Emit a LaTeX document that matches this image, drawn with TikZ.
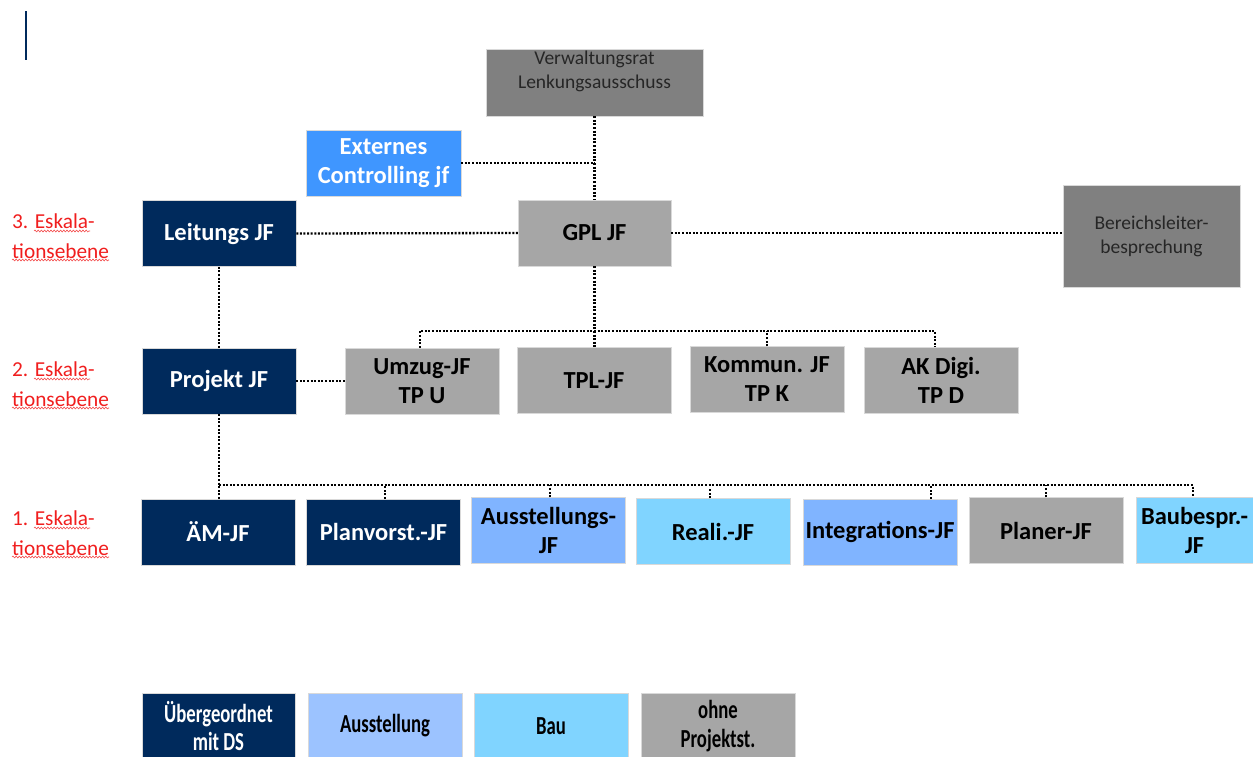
\documentclass[tikz,border=0pt]{standalone}
\usepackage{fontspec}
\setmainfont{Carlito}
\newfontfamily\legendfont[FakeStretch=0.72]{Carlito}
\usetikzlibrary{decorations.pathmorphing}

\definecolor{navy}{HTML}{002A5C}
\definecolor{extblue}{HTML}{3F96FF}
\definecolor{midgray}{HTML}{A6A6A6}
\definecolor{darkgray}{HTML}{808080}
\definecolor{lblue}{HTML}{80B4FF}
\definecolor{legblue}{HTML}{9CC3FF}
\definecolor{cyanl}{HTML}{80D4FF}
\definecolor{esk}{HTML}{F01E1E}

\tikzset{
  box/.style={minimum width=154pt, minimum height=66pt, inner sep=1pt,
    align=center, draw=white!85!black, line width=0.5pt,
    font=\fontsize{24.5}{29}\selectfont\bfseries},
  navybox/.style={box, fill=navy, text=white},
  graybox/.style={box, fill=midgray, text=black},
  bluebox/.style={box, fill=lblue, text=black},
  cyanbox/.style={box, fill=cyanl, text=black},
  thinbox/.style={box, fill=darkgray, text=black!85,
    font=\fontsize{19.5}{24}\selectfont},
  legbox/.style={box, minimum height=66pt,
    font=\legendfont\fontsize{26}{28.5}\selectfont\bfseries},
  link/.style={draw=black, line width=2.3pt, dash pattern=on 2pt off 1.6pt},
  level/.style={anchor=west, inner sep=0, align=left, text=esk,
    font=\fontsize{21.3}{29.5}\selectfont},
  squiggle/.style={draw=esk!80, line width=0.6pt, decorate,
    decoration={snake, amplitude=0.9pt, segment length=3.2pt}}
}

\begin{document}
\begin{tikzpicture}[x=1pt, y=-1pt]
\useasboundingbox (0,0) rectangle (1253,756);

% title bar mark
\draw[navy, line width=2pt] (26,11) -- (26,60);

% top governance
\node[thinbox, minimum width=217pt, minimum height=67pt] (vr) at (594.5,82.5) {};
\node[anchor=north, inner sep=0, align=center, text=black!85,
  font=\fontsize{19.5}{24}\selectfont] (vrtext) at ([yshift=-2pt]vr.north) {Verwaltungsrat\\Lenkungsausschuss};
\node[box, fill=extblue, text=white, minimum width=155pt] (ext) at (383.5,163) {Externes\\Controlling jf};
\node[navybox] (lei) at (219,233.5) {Leitungs JF};
\node[graybox, minimum width=153pt] (gpl) at (594.5,233) {GPL JF};
\node[thinbox, minimum width=177pt, minimum height=102pt] (bsp) at (1151.5,236) {Bereichsleiter-\\besprechung};

% level 2
\node[navybox] (prj) at (219,381) {Projekt JF};
\node[graybox] (umz) at (422,381) {Umzug-JF\\TP U};
\node[graybox] (tpl) at (594,380.5) {TPL-JF};
\node[graybox] (kom) at (767,379.5) {Kommun. JF\\TP K};
\node[graybox] (akd) at (941,380.5) {AK Digi.\\TP D};

% level 1
\node[navybox] (aem) at (218,532) {ÄM-JF};
\node[navybox] (plv) at (383.5,532) {Planvorst.-JF};
\node[bluebox] (aus) at (548.5,530.5) {Ausstellungs-\\JF};
\node[cyanbox] (rea) at (713,531.5) {Reali.-JF};
\node[bluebox] (int) at (880,532) {Integrations-JF};
\node[graybox] (pla) at (1046,530.5) {Planer-JF};
\node[cyanbox, minimum width=117pt] (bau) at (1194.5,530.5) {Baubespr.-\\JF};

% legend
\node[legbox, fill=navy, text=white, minimum width=153pt] (lg1) at (218.5,726) {Übergeordnet\\mit DS};
\node[legbox, fill=legblue, text=black] (lg2) at (385,726) {Ausstellung};
\node[legbox, fill=cyanl, text=black] (lg3) at (551,726) {Bau};
\node[legbox, fill=midgray, text=black] (lg4) at (718,726) {ohne\\Projektst.};

% escalation levels
\node[level] (e3) at (12,236) {3. Eskala-\\tionsebene};
\node[level] (e2) at (12,384) {2. Eskala-\\tionsebene};
\node[level] (e1) at (12,533) {1. Eskala-\\tionsebene};
\foreach \e in {e3,e2,e1}{
  \draw[squiggle] ([xshift=22pt,yshift=5pt]\e.west) -- ([xshift=78pt,yshift=5pt]\e.west);
  \draw[squiggle] ([xshift=0pt,yshift=-24pt]\e.west) -- ([xshift=97pt,yshift=-24pt]\e.west);
}

% bus lines
\coordinate (busB) at (0,331);
\coordinate (busA) at (0,485);
\coordinate (umzTop) at ([xshift=-2pt]umz.north);
\coordinate (akdTop) at ([xshift=-6pt]akd.north);
\coordinate (bauTop) at ([xshift=-1.5pt]bau.north);
\coordinate (plvTop) at ([xshift=1.5pt]plv.north);
\coordinate (ausTop) at ([xshift=1.5pt]aus.north);
\coordinate (reaTop) at ([xshift=-3pt]rea.north);
\coordinate (reaUp) at ([xshift=-3pt,yshift=9pt]rea.north);
\coordinate (intTop) at ([xshift=51pt]int.north);

% connectors
\draw[link] (vr.south) -- (gpl.north);
\draw[link] (ext.east) -- (ext.east -| vr.south);
\draw[link] (lei.east) -- (gpl.west);
\draw[link] (gpl.east) -- (gpl.east -| bsp.west);
\draw[link] (lei.south) -- (lei.south |- prj.north);
\draw[link] (gpl.south) -- (gpl.south |- tpl.north);
\draw[link] (umzTop) |- (busB -| akdTop) -- (akdTop);
\draw[link] (kom.north) -- (kom.north |- busB);
\draw[link] (prj.east) -- (umz.west);
\draw[link] (prj.south) -- (prj.south |- aem.north);
\draw[link] (prj.south |- busA) -| (bauTop);
\draw[link] (plvTop) -- (plvTop |- busA);
\draw[link] (ausTop) -- (ausTop |- busA);
\draw[link] (reaTop) -- (reaUp);
\draw[link] (intTop) -- (intTop |- busA);
\draw[link] (pla.north) -- (pla.north |- busA);
\end{tikzpicture}
\end{document}
